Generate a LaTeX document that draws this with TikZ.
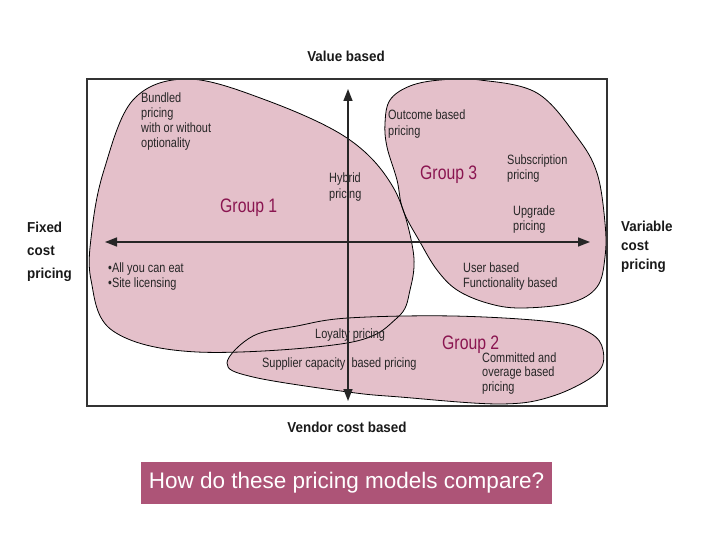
\documentclass[tikz,border=0pt]{standalone}
\usepackage{fontspec}
\setmainfont{Liberation Sans}
\newfontfamily\narrowfont{Liberation Sans}[FakeStretch=0.81]
\newfontfamily\semifont{Liberation Sans}[FakeStretch=0.93]
\usetikzlibrary{arrows.meta}
\definecolor{blobpink}{HTML}{E4C0CA}
\definecolor{titlebg}{HTML}{AD5477}
\definecolor{grouptxt}{HTML}{8A1550}
\definecolor{framegray}{HTML}{333333}
\begin{document}
\begin{tikzpicture}[x=1pt,y=-1pt,
  blobfill/.style={fill=blobpink, draw=none},
  blobline/.style={draw=black, line width=0.8pt},
  axisline/.style={line width=1.5pt, black!85, {Triangle[length=12pt,width=9pt]}-{Triangle[length=12pt,width=9pt]}},
  itemtxt/.style={anchor=base west, inner sep=0pt, align=left, font=\narrowfont\fontsize{13.5}{15}\selectfont, text=black!85},
  grouplabel/.style={anchor=base west, inner sep=0pt, font=\narrowfont\fontsize{19.5}{21}\selectfont, text=grouptxt},
  axislabel/.style={inner sep=0pt, font=\semifont\fontsize{14.4}{19}\selectfont\bfseries, text=black!90}
]
\useasboundingbox (0,0) rectangle (720,540);

% group shapes
\def\groupone{plot[smooth cycle, tension=0.6] coordinates {(187,79) (263,99) (347,138) (393,187) (413,250) (410,290) (397,318) (347,343) (197,352) (113,331) (91,280) (92,230) (104,170) (133,100)}}
\def\grouptwo{plot[smooth cycle, tension=0.6] coordinates {(227,363) (253,336) (297,326) (348,318) (453,316) (553,322) (590,333) (603,350) (597,373) (553,396) (500,404) (400,397) (348,392) (253,377)}}
\def\groupthree{plot[smooth cycle, tension=0.6] coordinates {(440,80) (480,80) (537,93) (577,137) (597,173) (605,223) (605,257) (597,287) (570,303) (520,308) (487,303) (457,290) (437,270) (420,242) (403,210) (397,180) (387,147) (385,123) (390,100) (410,86)}}

\path[blobfill] \groupone;
\path[blobfill] \grouptwo;
\path[blobfill] \groupthree;
\draw[blobline] \groupone;
\draw[blobline] \grouptwo;
\draw[blobline] \groupthree;

% frame
\draw[framegray, line width=1.2pt] (87,79) rectangle (607,406);

% axes
\coordinate (xl) at (105,242);
\coordinate (xr) at (590,242);
\coordinate (yt) at (348,89);
\coordinate (yb) at (348,401);
\draw[axisline] (xl) -- (xr);
\draw[axisline] (yb) -- (yt);

% axis labels
\node[axislabel, anchor=base] (vb) at (346,62) {Value based};
\node[axislabel, anchor=base] (vc) at (347,432) {Vendor cost based};
\node[axislabel, anchor=base west, align=left, font=\semifont\fontsize{14.4}{23}\selectfont\bfseries] (fc) at (27,278) {Fixed\\cost\\pricing};
\node[axislabel, anchor=base west, align=left, font=\semifont\fontsize{14.4}{19}\selectfont\bfseries] (vcp) at (621,269) {Variable\\cost\\pricing};

% group labels
\node[grouplabel] (g1) at (220,213) {Group 1};
\node[grouplabel] (g3) at (420,180) {Group 3};
\node[grouplabel] (g2) at (442,349) {Group 2};

% items (anchored at the baseline of the last line)
\node[itemtxt, font=\narrowfont\fontsize{13.5}{15.3}\selectfont] (bund) at (141,148) {Bundled\\pricing\\with or without\\optionality};
\node[itemtxt, font=\narrowfont\fontsize{13.5}{16}\selectfont] (hyb) at (329,199) {Hybrid\\pricing};
\node[itemtxt, font=\narrowfont\fontsize{13.5}{16}\selectfont] (outc) at (388,136) {Outcome based\\pricing};
\node[itemtxt] (subs) at (507,180) {Subscription\\pricing};
\node[itemtxt] (upg) at (513,230) {Upgrade\\pricing};
\node[itemtxt] (user) at (463,287) {User based\\Functionality based};
\node[itemtxt] (allyou) at (108,287) {•All you can eat\\•Site licensing};
\node[itemtxt] (loy) at (315,338) {Loyalty pricing};
\node[itemtxt] (supp) at (262,367) {Supplier capacity~ based pricing};
\node[itemtxt, font=\narrowfont\fontsize{13.5}{14.5}\selectfont] (comm) at (482,391) {Committed and\\overage based\\pricing};

% title
\node[fill=titlebg, minimum width=411pt, minimum height=42pt, inner sep=0pt, text=white, font=\fontsize{22.5}{27}\selectfont] (title) at (346.5,483) {How do these pricing models compare?};
\end{tikzpicture}
\end{document}
